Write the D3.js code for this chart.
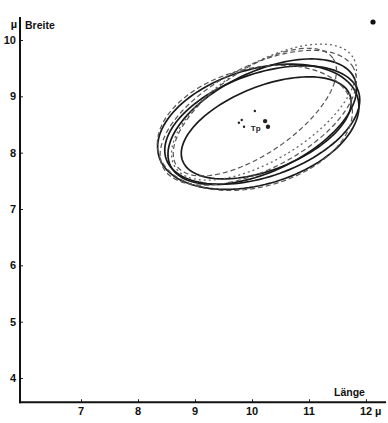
<!DOCTYPE html>
<html>
<head>
<meta charset="utf-8">
<script src="https://cdn.jsdelivr.net/npm/d3@7"></script>
<style>
  body { margin: 0; background: #fff; }
  text { font-family: "Liberation Sans", Arial, sans-serif; font-weight: bold; fill: #111; }
</style>
</head>
<body>
<div id="chart"></div>
<script>
// tick values
const xTicks = [7, 8, 9, 10, 11, 12]
const yTicks = [4, 5, 6, 7, 8, 9, 10]

// ellipses: centre (Länge, Breite), semi-axes, tilt in degrees, line style
const ellCx = [10.25, 10.18, 10.11, 10.18, 10.11, 10.21, 10.05, 10.05]
const ellCy = [8.44, 8.49, 8.46, 8.55, 8.62, 8.72, 8.44, 8.72]
const ellA = [1.58, 1.79, 1.82, 1.79, 1.89, 1.84, 1.75, 1.67]
const ellB = [0.74, 0.91, 1.02, 0.88, 0.91, 0.84, 1.05, 0.74]
const ellTilt = [22, 20, 17, 26, 28, 32, 15, 35]
const ellStyle = ["solid", "solid", "solid", "solid", "dashed", "dotted", "dashed", "dashed"]

// single measurements near the centre
const ptX = [10.05, 9.82, 9.77, 9.86, 10.23, 10.28]
const ptY = [8.74, 8.58, 8.53, 8.46, 8.56, 8.46]
const ptBig = [false, false, false, false, true, true]

const W = 388, H = 423

const x = d3.scaleLinear().domain([7, 12]).range([81, 366])
const y = d3.scaleLinear().domain([4, 10]).range([378, 40])
const xMin = 5.93, yMin = 3.57

const svg = d3.select("#chart").append("svg")
  .attr("width", W)
  .attr("height", H)

// ellipses
const line = d3.line().x(d => x(d[0])).y(d => y(d[1])).curve(d3.curveLinearClosed)
ellCx.forEach((cx, i) => {
  const th = ellTilt[i] * Math.PI / 180
  const pts = d3.range(0, 360, 3).map(deg => {
    const t = deg * Math.PI / 180
    const u = ellA[i] * Math.cos(t), v = ellB[i] * Math.sin(t)
    return [cx + u * Math.cos(th) - v * Math.sin(th), ellCy[i] + u * Math.sin(th) + v * Math.cos(th)]
  })
  const p = svg.append("path")
    .attr("d", line(pts))
    .attr("fill", "none")
  if (ellStyle[i] == "solid") {
    p.attr("stroke", "#1a1a1a").attr("stroke-width", 1.7)
  } else if (ellStyle[i] == "dashed") {
    p.attr("stroke", "#555").attr("stroke-width", 1.2).attr("stroke-dasharray", "5,3")
  } else {
    p.attr("stroke", "#666").attr("stroke-width", 1.3).attr("stroke-dasharray", "2,3")
  }
})

// points
svg.selectAll(".pt")
  .data(ptX)
  .enter()
  .append("circle")
  .attr("class", "pt")
  .attr("cx", d => x(d))
  .attr("cy", (d, i) => y(ptY[i]))
  .attr("r", (d, i) => ptBig[i] ? 2.2 : 1.2)
  .attr("fill", "#222")

svg.append("text")
  .attr("x", x(9.98))
  .attr("y", y(8.44) + 3)
  .style("font-size", "8px")
  .style("fill", "#222")
  .text("Tp")

// axes
const xAxis = svg.append("g")
  .attr("transform", `translate(0,${y(yMin)})`)
  .call(d3.axisTop(x).tickValues(xTicks).tickSize(3).tickFormat(""))
xAxis.select(".domain").remove()
xAxis.selectAll("line").attr("stroke", "#222")

const yAxis = svg.append("g")
  .attr("transform", `translate(${x(xMin)},0)`)
  .call(d3.axisRight(y).tickValues(yTicks).tickSize(3).tickFormat(""))
yAxis.select(".domain").remove()
yAxis.selectAll("line").attr("stroke", "#222")

svg.append("line")
  .attr("x1", x(xMin)).attr("x2", x(xMin))
  .attr("y1", 17).attr("y2", y(yMin) + 1)
  .attr("stroke", "#111").attr("stroke-width", 2)
svg.append("line")
  .attr("x1", x(xMin) - 1).attr("x2", 386)
  .attr("y1", y(yMin)).attr("y2", y(yMin))
  .attr("stroke", "#111").attr("stroke-width", 2)

svg.selectAll(".xl")
  .data(xTicks)
  .enter()
  .append("text")
  .attr("x", d => x(d))
  .attr("y", 415)
  .attr("text-anchor", "middle")
  .style("font-size", "11px")
  .text(d => d)

svg.selectAll(".yl")
  .data(yTicks)
  .enter()
  .append("text")
  .attr("x", 16)
  .attr("y", d => y(d) + 4)
  .attr("text-anchor", "end")
  .style("font-size", "11px")
  .text(d => d)

svg.append("text").attr("x", 375).attr("y", 415).style("font-size", "11px").text("µ")
svg.append("text").attr("x", 17).attr("y", 28).attr("text-anchor", "end").style("font-size", "11px").text("µ")
svg.append("text").attr("x", 25).attr("y", 29).style("font-size", "10.5px").text("Breite")
svg.append("text").attr("x", 334).attr("y", 396).style("font-size", "10.5px").text("Länge")

// panel marker
svg.append("circle").attr("cx", 373).attr("cy", 22).attr("r", 2.6).attr("fill", "#111")
</script>
</body>
</html>
